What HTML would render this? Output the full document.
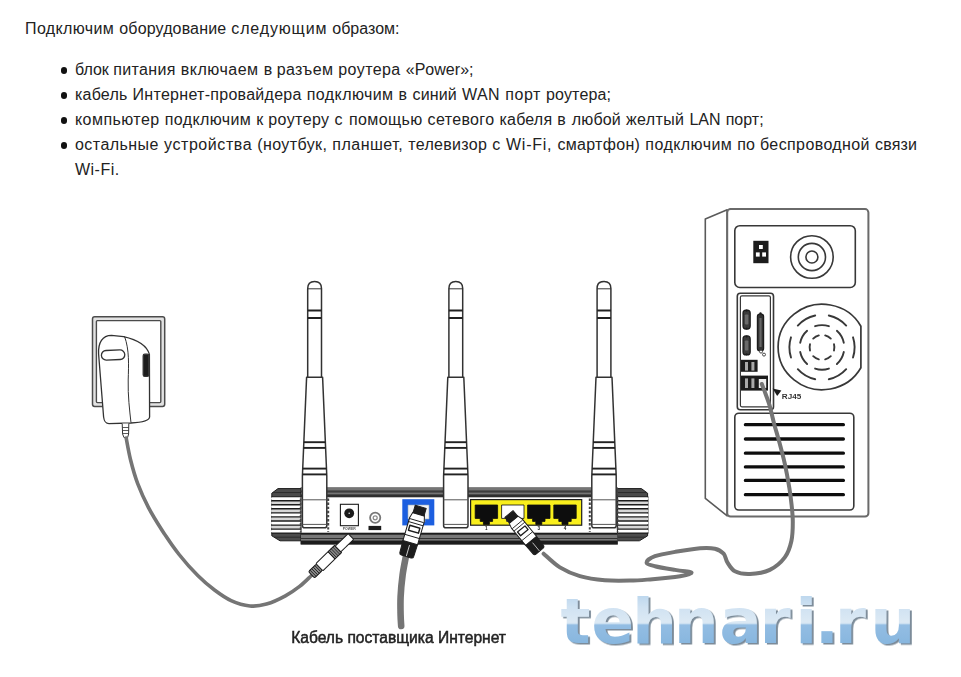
<!DOCTYPE html>
<html lang="ru">
<head>
<meta charset="utf-8">
<title>Подключение роутера</title>
<style>
html,body{margin:0;padding:0;background:#fff;}
body{width:961px;height:677px;overflow:hidden;position:relative;font-family:"Liberation Sans",sans-serif;font-size:16px;color:#222;}
.ln{position:absolute;left:0;margin:0;padding:0;height:25px;line-height:25px;white-space:nowrap;width:961px;}
.ln span{position:absolute;top:0;white-space:nowrap;}
.li:before{content:"";position:absolute;left:60.8px;top:10.2px;width:6.4px;height:6.4px;border-radius:50%;background:#111;}
ul{margin:0;padding:0;list-style:none;}
#diagram{position:absolute;left:0;top:0;width:961px;height:677px;}
</style>
</head>
<body>
<p class="ln lead" style="top:16px"><span style="left:25.0px;letter-spacing:0.38px">Подключим</span> <span style="left:119.3px;letter-spacing:0.14px">оборудование</span> <span style="left:231.3px;letter-spacing:0.85px">следующим</span> <span style="left:332.3px;letter-spacing:0.00px">образом:</span></p>
<ul>
<li class="ln li" style="top:57px"><span style="left:75.0px;letter-spacing:0.00px">блок</span> <span style="left:113.3px;letter-spacing:0.32px">питания</span> <span style="left:180.7px;letter-spacing:0.52px">включаем</span> <span style="left:263.7px;letter-spacing:0.00px">в</span> <span style="left:276.7px;letter-spacing:0.34px">разъем</span> <span style="left:338.3px;letter-spacing:0.41px">роутера</span> <span style="left:405.7px;letter-spacing:0.04px">«Power»;</span></li>
<li class="ln li" style="top:82px"><span style="left:75.0px;letter-spacing:0.21px">кабель</span> <span style="left:132.6px;letter-spacing:0.28px">Интернет-провайдера</span> <span style="left:306.8px;letter-spacing:0.41px">подключим</span> <span style="left:398.5px;letter-spacing:0.00px">в</span> <span style="left:412.5px;letter-spacing:0.16px">синий</span> <span style="left:462.0px;letter-spacing:0.47px">WAN</span> <span style="left:505.2px;letter-spacing:0.58px">порт</span> <span style="left:546.0px;letter-spacing:0.16px">роутера;</span></li>
<li class="ln li" style="top:107px"><span style="left:75.0px;letter-spacing:0.44px">компьютер</span> <span style="left:164.7px;letter-spacing:0.40px">подключим</span> <span style="left:256.3px;letter-spacing:0.00px">к</span> <span style="left:268.2px;letter-spacing:0.42px">роутеру</span> <span style="left:334.6px;letter-spacing:0.00px">с</span> <span style="left:349.0px;letter-spacing:0.37px">помощью</span> <span style="left:427.6px;letter-spacing:0.35px">сетевого</span> <span style="left:499.5px;letter-spacing:0.19px">кабеля</span> <span style="left:557.3px;letter-spacing:0.00px">в</span> <span style="left:571.7px;letter-spacing:0.18px">любой</span> <span style="left:626.0px;letter-spacing:0.36px">желтый</span> <span style="left:689.4px;letter-spacing:0.04px">LAN</span> <span style="left:725.7px;letter-spacing:0.00px">порт;</span></li>
<li class="ln li" style="top:132px"><span style="left:75.0px;letter-spacing:0.45px">остальные</span> <span style="left:164.0px;letter-spacing:0.58px">устройства</span> <span style="left:257.3px;letter-spacing:0.39px">(ноутбук,</span> <span style="left:332.3px;letter-spacing:0.50px">планшет,</span> <span style="left:408.3px;letter-spacing:0.31px">телевизор</span> <span style="left:492.3px;letter-spacing:0.00px">с</span> <span style="left:506.0px;letter-spacing:0.76px">Wi-Fi,</span> <span style="left:557.4px;letter-spacing:0.32px">смартфон)</span> <span style="left:645.3px;letter-spacing:0.44px">подключим</span> <span style="left:737.3px;letter-spacing:0.04px">по</span> <span style="left:760.0px;letter-spacing:0.39px">беспроводной</span> <span style="left:875.0px;letter-spacing:0.19px">связи</span> <span style="left:75.0px;letter-spacing:0.47px;top:25px">Wi-Fi.</span></li>
</ul>
<svg id="diagram" viewBox="0 0 961 677" width="961" height="677">
<defs>
<linearGradient id="wm" x1="0" y1="591" x2="0" y2="645" gradientUnits="userSpaceOnUse"><stop offset="0" stop-color="#b6d3ec"/><stop offset="0.3" stop-color="#d0e2f2"/><stop offset="0.58" stop-color="#dce9f4"/><stop offset="0.6" stop-color="#d0e2f2"/><stop offset="0.63" stop-color="#93bde3"/><stop offset="1" stop-color="#87b6de"/></linearGradient>
<filter id="wmsh" x="-5%" y="-10%" width="110%" height="130%"><feDropShadow dx="1.9" dy="1.5" stdDeviation="0.35" flood-color="#7c8b99" flood-opacity="1"/></filter>
<filter id="soft" x="-2%" y="-2%" width="104%" height="104%"><feGaussianBlur stdDeviation="0.6"/></filter>
</defs>
<g filter="url(#soft)">
<g fill="#fff" stroke="#333" stroke-width="1.3" stroke-linejoin="round">
<rect x="92.5" y="316.8" width="72.2" height="89.6" rx="2.2" fill="#e2e2e2" stroke="#4c4c4c" stroke-width="1.5"/>
<rect x="96.4" y="320.6" width="64.4" height="82" rx="1" stroke="#4c4c4c" stroke-width="1.4"/>
<path d="M98.6 354 C98 342.5 102.5 335.5 111.5 335.4 L123.5 336.6 C136 339.4 146.8 345 149.4 354.4 L149.6 417 C149.4 420.6 142 422.4 131 423 L109 423.6 C105.2 423.6 104.2 421.5 103.6 417 Z"/>
<path d="M124.5 336.3 C129.5 350 128.6 365 128.2 380 C127.8 396 129.6 410 131 422.8" fill="none" stroke-width="1"/>
<rect x="101.4" y="350.2" width="23.4" height="9.6" rx="4.8" transform="rotate(-2.5 113 355)"/>
<rect x="143.2" y="354.2" width="5.6" height="22.2" rx="1.6" fill="#1c1c1c"/>
<path d="M122.2 423.6 L122.6 434 L124 437.6 L127.6 437.6 L128.6 434 L128.8 423.4" stroke-width="1"/>
<path d="M122.5 427.5H128.7M122.6 430.5H128.7M122.8 433.5H128.6" stroke-width="0.8" fill="none"/>
</g>
<path d="M126.2 438.0 C126.9 441.7 128.7 452.4 130.6 460.0 C132.5 467.6 134.7 475.7 137.7 483.6 C140.7 491.5 144.3 499.4 148.4 507.3 C152.5 515.2 157.4 523.0 162.5 530.9 C167.6 538.8 173.2 547.0 179.1 554.5 C185.0 562.0 192.1 569.9 198.0 575.8 C203.9 581.7 209.0 585.9 214.5 590.0 C220.0 594.1 225.2 597.9 231.1 600.6 C237.0 603.3 244.1 605.4 250.0 606.0 C255.9 606.6 260.6 605.8 266.5 604.1 C272.4 602.4 279.9 598.9 285.4 595.9 C290.9 592.9 295.2 589.8 299.6 586.4 C304.0 583.0 309.5 577.3 311.5 575.5" fill="none" stroke="#747474" stroke-width="3.6" stroke-linecap="round"/>
<g id="router">
<path d="M278.0 488.6 L302.4 488.6 L302.4 540.8 L280.0 540.8 L271.8 535.8 L271.8 493.2 Z" fill="#4c4c4c" stroke="#1c1c1c" stroke-width="1" stroke-linejoin="round"/><rect x="271.6" y="496.4" width="30.8" height="37.4" fill="#1c1c1c"/><rect x="271.0" y="497.3" width="31.4" height="2.7" rx="1.3" fill="#fff"/><rect x="271.0" y="501.4" width="31.4" height="2.7" rx="1.3" fill="#d6d6d6"/><rect x="271.0" y="505.4" width="31.4" height="2.7" rx="1.3" fill="#fff"/><rect x="271.0" y="509.5" width="31.4" height="2.7" rx="1.3" fill="#d6d6d6"/><rect x="271.0" y="513.5" width="31.4" height="2.7" rx="1.3" fill="#fff"/><rect x="271.0" y="517.6" width="31.4" height="2.7" rx="1.3" fill="#d6d6d6"/><rect x="271.0" y="521.7" width="31.4" height="2.7" rx="1.3" fill="#fff"/><rect x="271.0" y="525.7" width="31.4" height="2.7" rx="1.3" fill="#d6d6d6"/><rect x="271.0" y="529.8" width="31.4" height="2.7" rx="1.3" fill="#fff"/><path d="M273.0 492.6 H302.4 M274.0 537.2 H302.4" stroke="#2a2a2a" stroke-width="1" fill="none"/>
<path d="M641.4 488.6 L616.4 488.6 L616.4 540.8 L639.4 540.8 L647.6 535.8 L647.6 493.2 Z" fill="#4c4c4c" stroke="#1c1c1c" stroke-width="1" stroke-linejoin="round"/><rect x="617.0" y="496.4" width="31.4" height="37.4" fill="#1c1c1c"/><rect x="616.4" y="497.3" width="32.0" height="2.7" rx="1.3" fill="#fff"/><rect x="616.4" y="501.4" width="32.0" height="2.7" rx="1.3" fill="#d6d6d6"/><rect x="616.4" y="505.4" width="32.0" height="2.7" rx="1.3" fill="#fff"/><rect x="616.4" y="509.5" width="32.0" height="2.7" rx="1.3" fill="#d6d6d6"/><rect x="616.4" y="513.5" width="32.0" height="2.7" rx="1.3" fill="#fff"/><rect x="616.4" y="517.6" width="32.0" height="2.7" rx="1.3" fill="#d6d6d6"/><rect x="616.4" y="521.7" width="32.0" height="2.7" rx="1.3" fill="#fff"/><rect x="616.4" y="525.7" width="32.0" height="2.7" rx="1.3" fill="#d6d6d6"/><rect x="616.4" y="529.8" width="32.0" height="2.7" rx="1.3" fill="#fff"/><path d="M646.4 492.6 H616.4 M645.4 537.2 H616.4" stroke="#2a2a2a" stroke-width="1" fill="none"/>
<rect x="301" y="488" width="316.4" height="56" fill="#fff" stroke="#1c1c1c" stroke-width="1"/>
<rect x="301" y="487.8" width="316.4" height="9.4" fill="#747474"/>
<rect x="301" y="490.4" width="316.4" height="2.2" fill="#3c3c3c"/>
<rect x="301" y="494.4" width="316.4" height="2.8" fill="#2e2e2e"/>
<rect x="301" y="532.8" width="316.4" height="11.5" fill="#787878"/>
<rect x="301" y="532.8" width="316.4" height="1.9" fill="#1c1c1c"/>
<rect x="301" y="538.1" width="316.4" height="0.9" fill="#2a2a2a"/>
<rect x="301" y="540.6" width="316.4" height="3.7" fill="#1c1c1c"/>
<path d="M328.2 498.5 V532 M589.8 498.5 V532" stroke="#444" stroke-width="2" stroke-dasharray="2.4 1.7" fill="none"/>
<path d="M300.6 498.5 V532 M617.6 498.5 V532" stroke="#444" stroke-width="1.6" stroke-dasharray="2.4 1.7" fill="none"/>
<rect x="340.4" y="504.3" width="18" height="21.4" fill="#fff" stroke="#1c1c1c" stroke-width="1.1"/>
<circle cx="349.2" cy="513.3" r="4.9" fill="#1c1c1c"/>
<circle cx="349.2" cy="513.3" r="0.8" fill="#ddd"/>
<text x="349.3" y="530" font-family="'Liberation Sans',sans-serif" font-size="3.6" font-weight="bold" text-anchor="middle" fill="#555" textLength="13" lengthAdjust="spacingAndGlyphs">POWER</text>
<circle cx="375.2" cy="517.8" r="5.1" fill="#fff" stroke="#777" stroke-width="1.8"/>
<circle cx="375.2" cy="517.8" r="2" fill="#fff" stroke="#888" stroke-width="1.2"/>
<rect x="368.5" y="525.9" width="12.7" height="4.2" fill="#1c1c1c"/>
<rect x="402.3" y="499.2" width="32" height="26.2" fill="#1b5ee0"/>
<path d="M408 505 H429 V519 H425 V522 H412 V519 H408Z" fill="#f4f4f4" stroke="#9ab" stroke-width="0.6"/>
<rect x="470.6" y="499.6" width="111.1" height="25.6" fill="#f9ef1e" stroke="#1c1c1c" stroke-width="1.2"/>
<path d="M475.2 505 h22.4 v13.4 h-5 v3 h-3.2 v3 h-6 v-3 h-3.2 v-3 h-5Z" fill="#0c0c0c" stroke="#0c0c0c" stroke-width="0.8"/>
<path d="M501.6 505 h22.4 v13.4 h-5 v3 h-3.2 v3 h-6 v-3 h-3.2 v-3 h-5Z" fill="#fff" stroke="#0c0c0c" stroke-width="0.8"/>
<path d="M527.6 505 h22.4 v13.4 h-5 v3 h-3.2 v3 h-6 v-3 h-3.2 v-3 h-5Z" fill="#0c0c0c" stroke="#0c0c0c" stroke-width="0.8"/>
<path d="M553.8 505 h22.4 v13.4 h-5 v3 h-3.2 v3 h-6 v-3 h-3.2 v-3 h-5Z" fill="#0c0c0c" stroke="#0c0c0c" stroke-width="0.8"/>
<g font-family="'Liberation Sans',sans-serif" font-size="4.6" font-weight="bold" fill="#1c1c1c" text-anchor="middle">
<text x="486.4" y="530.4">1</text><text x="538.8" y="530.4">3</text><text x="565" y="530.4">4</text>
</g>
</g>
<g fill="#fff" stroke="#333" stroke-width="1.5" stroke-linejoin="round"><path d="M306.6 377.3 L302.4 476.0 V525.4 Q302.4 527.8 304.6 527.8 H324.6 Q326.8 527.8 326.8 525.4 V476.0 L322.6 377.3Z"/><path d="M302.4 499.8 H326.8 M302.4 524.4 H326.8" fill="none" stroke="#555" stroke-width="1"/><path d="M303.8 442.2 H325.4" fill="none" stroke="#222" stroke-width="1.9"/><path d="M303.6 447.9 H325.6" fill="none" stroke="#222" stroke-width="1.9"/><path d="M302.7 468.6 H326.5" fill="none" stroke="#222" stroke-width="1.9"/><path d="M302.5 474.4 H326.7" fill="none" stroke="#222" stroke-width="1.9"/><path d="M307.7 377.3 V288.4 Q307.7 281.4 314.6 281.4 Q321.5 281.4 321.5 288.4 V377.3Z"/><path d="M307.7 288.8 H321.5" fill="none" stroke-width="1"/><path d="M307.7 310.4 H321.5 M307.7 317.9 H321.5" fill="none" stroke="#222" stroke-width="2"/></g>
<g fill="#fff" stroke="#333" stroke-width="1.5" stroke-linejoin="round"><path d="M447.8 377.3 L443.6 476.0 V525.4 Q443.6 527.8 445.8 527.8 H465.8 Q468.0 527.8 468.0 525.4 V476.0 L463.8 377.3Z"/><path d="M443.6 499.8 H468.0 M443.6 524.4 H468.0" fill="none" stroke="#555" stroke-width="1"/><path d="M445.0 442.2 H466.6" fill="none" stroke="#222" stroke-width="1.9"/><path d="M444.8 447.9 H466.8" fill="none" stroke="#222" stroke-width="1.9"/><path d="M443.9 468.6 H467.7" fill="none" stroke="#222" stroke-width="1.9"/><path d="M443.7 474.4 H467.9" fill="none" stroke="#222" stroke-width="1.9"/><path d="M448.9 377.3 V288.4 Q448.9 281.4 455.8 281.4 Q462.7 281.4 462.7 288.4 V377.3Z"/><path d="M448.9 288.8 H462.7" fill="none" stroke-width="1"/><path d="M448.9 310.4 H462.7 M448.9 317.9 H462.7" fill="none" stroke="#222" stroke-width="2"/></g>
<g fill="#fff" stroke="#333" stroke-width="1.5" stroke-linejoin="round"><path d="M596.0 377.3 L591.8 476.0 V525.4 Q591.8 527.8 594.0 527.8 H614.0 Q616.2 527.8 616.2 525.4 V476.0 L612.0 377.3Z"/><path d="M591.8 499.8 H616.2 M591.8 524.4 H616.2" fill="none" stroke="#555" stroke-width="1"/><path d="M593.2 442.2 H614.8" fill="none" stroke="#222" stroke-width="1.9"/><path d="M593.0 447.9 H615.0" fill="none" stroke="#222" stroke-width="1.9"/><path d="M592.1 468.6 H615.9" fill="none" stroke="#222" stroke-width="1.9"/><path d="M591.9 474.4 H616.1" fill="none" stroke="#222" stroke-width="1.9"/><path d="M597.1 377.3 V288.4 Q597.1 281.4 604.0 281.4 Q610.9 281.4 610.9 288.4 V377.3Z"/><path d="M597.1 288.8 H610.9" fill="none" stroke-width="1"/><path d="M597.1 310.4 H610.9 M597.1 317.9 H610.9" fill="none" stroke="#222" stroke-width="2"/></g>
<g transform="translate(311.5 574.8) rotate(-44.2)" stroke="#1c1c1c" stroke-width="1" stroke-linejoin="round">
<rect x="0" y="-4.4" width="11" height="8.8" rx="1.5" fill="#8a8a8a"/>
<path d="M2.2 -4.4V4.4M4.4 -4.4V4.4M6.6 -4.4V4.4M8.8 -4.4V4.4" stroke="#222" stroke-width="0.9"/>
<rect x="11" y="-5" width="17" height="10" rx="1" fill="#fff"/>
<rect x="28" y="-5" width="9" height="10" fill="#888"/>
<path d="M30 -5V5M32.3 -5V5M34.6 -5V5" stroke="#1c1c1c" stroke-width="0.8"/>
<rect x="37" y="-4" width="18" height="8" rx="1" fill="#fff"/>
</g>
<path d="M406.0 556.0 C405.4 559.2 403.5 568.2 402.6 575.0 C401.7 581.8 400.9 590.3 400.6 597.0 C400.3 603.7 400.5 610.2 400.6 615.0 C400.7 619.8 401.1 624.2 401.2 626.0" fill="none" stroke="#747474" stroke-width="6.6" stroke-linecap="round"/>
<g transform="translate(420.9 506.2) rotate(16.3) scale(1.000)" stroke="#1c1c1c" stroke-width="1" stroke-linejoin="round"><path d="M-7.6 37 H7.6 L7.2 50.5 Q7 52.4 5 52.4 H-5 Q-7 52.4 -7.2 50.5Z" fill="#1c1c1c"/><path d="M0 40.5V52" stroke="#ccc" stroke-width="0.9"/><path d="M-6 8 H6 L7.6 14 V38 H-7.6 V14Z" fill="#fff"/><rect x="-5.2" y="21.4" width="10.4" height="5.2" fill="#fff" stroke-width="1.4"/><path d="M-7.2 15 H7.2 M-7.6 18.2 H7.6 M-7.6 31.5 H7.6" fill="none" stroke-width="0.9"/><rect x="-5.7" y="0.6" width="11.4" height="8" fill="#1c1c1c"/></g>
<g id="pc" fill="#fff" stroke="#383838" stroke-width="1.6" stroke-linejoin="round">
<path d="M727.2 209.8 L705.3 219 V498.4 L727.2 515.8Z" stroke="#5a5a5a" stroke-width="1.6"/>
<rect x="727.2" y="209.1" width="141.2" height="307.5" rx="3.4" stroke="#6a6a6a" stroke-width="2"/>
<rect x="734.8" y="225.7" width="120.5" height="61.8" rx="5"/>
<rect x="753.3" y="240.8" width="15.2" height="22.4" fill="#1c1c1c" stroke="none"/>
<g fill="#fff" stroke="none"><rect x="759" y="245" width="3.8" height="4"/><rect x="755.9" y="252.4" width="3.8" height="4.2"/><rect x="762.2" y="252.4" width="3.8" height="4.2"/></g>
<circle cx="811.9" cy="257" r="21.3" stroke-width="1.6"/>
<circle cx="811.9" cy="257" r="13.6" stroke-width="1.6"/>
<circle cx="811.9" cy="257" r="6" stroke-width="1.6"/>
<rect x="737.3" y="293.2" width="36.2" height="116.6" rx="3" stroke-width="1.6"/>
<rect x="740.4" y="295.8" width="30" height="111" rx="1.5" stroke-width="1.2"/>
<rect x="743.0" y="310.1" width="7.2" height="19.0" rx="3.0" fill="#3a3a3a" stroke="#1c1c1c" stroke-width="1.2"/><rect x="744.8" y="314.6" width="3.6" height="10.0" rx="1" fill="#6a6a6a" stroke="none"/><circle cx="746.6" cy="310.7" r="1.1" fill="#1c1c1c" stroke="none"/><circle cx="746.6" cy="328.5" r="1.1" fill="#1c1c1c" stroke="none"/>
<rect x="743.0" y="335.9" width="7.2" height="19.0" rx="3.0" fill="#3a3a3a" stroke="#1c1c1c" stroke-width="1.2"/><rect x="744.8" y="340.4" width="3.6" height="10.0" rx="1" fill="#6a6a6a" stroke="none"/><circle cx="746.6" cy="336.5" r="1.1" fill="#1c1c1c" stroke="none"/><circle cx="746.6" cy="354.3" r="1.1" fill="#1c1c1c" stroke="none"/>
<rect x="757.4" y="314.2" width="6.2" height="36.6" rx="2.4" fill="#333" stroke="#1c1c1c" stroke-width="1.2"/>
<rect x="759.4" y="318" width="2.2" height="29" fill="#666" stroke="none"/>
<circle cx="760.5" cy="313.4" r="1.2" fill="#1c1c1c" stroke="none"/>
<circle cx="761" cy="351.6" r="1.5" fill="#fff" stroke-width="0.9"/><circle cx="764" cy="354.6" r="1.5" fill="#fff" stroke-width="0.9"/>
<rect x="741" y="359.8" width="16.6" height="12" fill="#1c1c1c" stroke="none"/>
<rect x="745" y="362" width="3" height="8.6" fill="#aaa" stroke="none"/><rect x="751.4" y="362" width="3" height="8.6" fill="#aaa" stroke="none"/>
<rect x="741" y="375.6" width="27" height="15" fill="#1c1c1c" stroke="none"/>
<rect x="745" y="378.4" width="3" height="9.6" fill="#aaa" stroke="none"/><rect x="751.4" y="378.4" width="3" height="9.6" fill="#aaa" stroke="none"/>
<rect x="758.8" y="379" width="7.4" height="9" fill="#eee" stroke="none"/>
<path d="M860.9 326.2 A44.2 42.7 0 1 0 860.9 367.8 Z" stroke-width="1.7"/>
<path d="M853.0 337.3 A32.6 32.6 0 0 1 853.0 357.5M846.2 369.2 A32.6 32.6 0 0 1 828.8 379.3M815.2 379.3 A32.6 32.6 0 0 1 797.8 369.2M791.0 357.5 A32.6 32.6 0 0 1 791.0 337.3M797.8 325.6 A32.6 32.6 0 0 1 815.2 315.5M828.8 315.5 A32.6 32.6 0 0 1 846.2 325.6" fill="none" stroke-width="1.9" stroke-linecap="round"/>
<path d="M843.8 352.0 A22.3 22.3 0 0 1 836.9 364.0M828.9 368.6 A22.3 22.3 0 0 1 815.1 368.6M807.1 364.0 A22.3 22.3 0 0 1 800.2 352.0M800.2 342.8 A22.3 22.3 0 0 1 807.1 330.8M815.1 326.2 A22.3 22.3 0 0 1 828.9 326.2M836.9 330.8 A22.3 22.3 0 0 1 843.8 342.8" fill="none" stroke-width="1.9" stroke-linecap="round"/>
<path d="M834.0 344.2 A12.4 12.4 0 0 1 834.0 350.6M830.8 356.2 A12.4 12.4 0 0 1 825.2 359.4M818.8 359.4 A12.4 12.4 0 0 1 813.2 356.2M810.0 350.6 A12.4 12.4 0 0 1 810.0 344.2M813.2 338.6 A12.4 12.4 0 0 1 818.8 335.4M825.2 335.4 A12.4 12.4 0 0 1 830.8 338.6" fill="none" stroke-width="1.9" stroke-linecap="round"/>
<rect x="734.8" y="413.2" width="119" height="96.8" rx="4"/>
<path d="M745.4 424.7 H843.4M745.4 439.0 H843.4M745.4 453.2 H843.4M745.4 466.9 H843.4M745.4 480.4 H843.4M745.4 494.7 H843.4" fill="none" stroke="#111" stroke-width="3.3" stroke-linecap="round"/>
<path d="M772.6 388.6 L781.4 390.4 L777.2 396Z" fill="#1c1c1c" stroke="none"/>
<text x="781.8" y="398.6" font-family="'Liberation Sans',sans-serif" font-size="7.6" font-weight="bold" fill="#333" stroke="none" textLength="19.4" lengthAdjust="spacingAndGlyphs">RJ45</text>
</g>
<g transform="translate(508.6 513.6) rotate(-39.5) scale(0.930)" stroke="#1c1c1c" stroke-width="1" stroke-linejoin="round"><path d="M-7.6 37 H7.6 L7.2 50.5 Q7 52.4 5 52.4 H-5 Q-7 52.4 -7.2 50.5Z" fill="#1c1c1c"/><path d="M0 40.5V52" stroke="#ccc" stroke-width="0.9"/><path d="M-6 8 H6 L7.6 14 V38 H-7.6 V14Z" fill="#fff"/><rect x="-5.2" y="21.4" width="10.4" height="5.2" fill="#fff" stroke-width="1.4"/><path d="M-7.2 15 H7.2 M-7.6 18.2 H7.6 M-7.6 31.5 H7.6" fill="none" stroke-width="0.9"/><rect x="-5.7" y="0.6" width="11.4" height="8" fill="#1c1c1c"/></g>
<path d="M543.6 553.7 C546.3 556.0 553.9 563.7 559.9 567.4 C565.9 571.1 572.4 574.0 579.9 576.1 C587.4 578.2 596.5 579.5 604.8 580.3 C613.1 581.0 622.3 580.8 629.8 580.6 C637.3 580.5 642.5 580.0 650.0 579.4 C657.5 578.8 668.5 577.7 675.0 576.9 C681.5 576.1 686.4 574.8 688.7 574.4 L688.7 574.4 C689.2 574.1 691.7 573.3 691.6 572.8 C691.5 572.3 688.6 571.8 688.0 571.6 L688.0 571.6 C685.8 571.3 680.5 570.8 675.0 569.9 C669.5 569.0 659.7 567.5 655.0 566.2 C650.3 565.0 646.6 564.1 646.6 562.4 C646.6 560.7 650.3 558.0 655.0 556.2 C659.7 554.5 667.5 553.2 675.0 551.9 C682.5 550.6 693.4 548.7 700.0 548.2 C706.6 547.7 711.0 547.8 714.9 548.7 C718.8 549.6 721.5 551.4 723.6 553.7 C725.7 556.0 725.5 559.5 727.4 562.4 C729.3 565.3 731.1 569.3 734.9 571.2 C738.6 573.1 744.1 574.1 749.9 573.9 C755.7 573.7 764.0 572.6 769.8 569.9 C775.6 567.1 781.2 562.2 784.8 557.4 C788.4 552.6 790.1 546.9 791.4 541.0 C792.7 535.1 792.8 528.0 792.8 522.0 C792.8 516.0 792.2 510.6 791.6 505.0 C791.0 499.4 790.5 495.0 789.4 488.3 C788.3 481.6 786.7 472.6 785.0 464.7 C783.3 456.8 780.8 447.7 779.0 441.0 C777.2 434.3 775.9 430.3 774.3 424.4 C772.7 418.5 771.0 410.6 769.6 405.5 C768.2 400.4 766.9 397.6 765.6 394.0 C764.3 390.4 762.4 385.7 761.8 384.0" fill="none" stroke="#747474" stroke-width="4" stroke-linecap="round" stroke-linejoin="round"/>
<text x="291.2" y="643" font-family="'Liberation Sans',sans-serif" font-size="16" fill="#222" stroke="#222" stroke-width="0.5" textLength="214.8" lengthAdjust="spacingAndGlyphs">Кабель поставщика Интернет</text>
</g>
<text id="wmtext" x="560.4 591.6 632.2 674.0 719.6 759.8 795.4 815.0 835.0 870.4" y="643" font-family="'DejaVu Sans','Liberation Sans',sans-serif" font-weight="bold" font-size="62.7" fill="url(#wm)" filter="url(#wmsh)">tehnari.ru</text>
</svg>
</body>
</html>
